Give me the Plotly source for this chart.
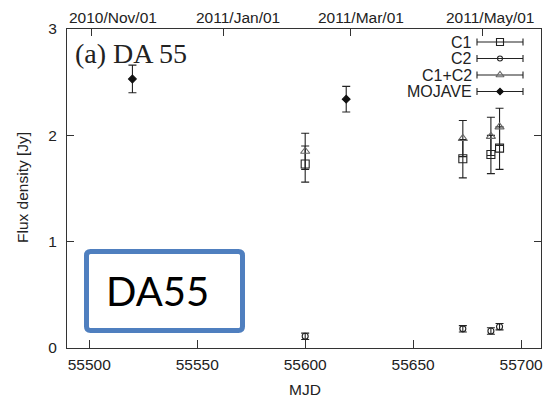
import plotly.graph_objects as go

# ---------------- data ----------------
MJD_C = [55600, 55673, 55686, 55690]
C1_FLUX = [1.73, 1.78, 1.82, 1.88]
C1_ERR = [0.17, 0.18, 0.18, 0.20]
C2_FLUX = [0.11, 0.18, 0.16, 0.20]
C2_ERR = [0.03, 0.03, 0.03, 0.03]
C12_FLUX = [1.85, 1.97, 1.99, 2.08]
C12_ERR = [0.17, 0.17, 0.18, 0.175]
MOJAVE_MJD = [55520, 55619]
MOJAVE_FLUX = [2.53, 2.34]
MOJAVE_ERR = [0.13, 0.12]

X_TICKS = [55500, 55550, 55600, 55650, 55700]
Y_TICKS = [0, 1, 2, 3]
DATE_MJD = [55501, 55562, 55621, 55682]
DATE_LABELS = ["2010/Nov/01", "2011/Jan/01", "2011/Mar/01", "2011/May/01"]
DATE_LABEL_POS = [55511, 55568.8, 55626, 55685.5]
LEGEND_NAMES = ["C1", "C2", "C1+C2", "MOJAVE"]

# ---------------- layout helpers ----------------
W, H = 547, 398
L, R, T, B = 67, 541, 29, 348


def px(x):
    return (x - L) / (R - L)


def py(y):
    return (B - y) / (B - T)


INK = "#222222"
AX = "#333333"
TICKFONT = dict(family="Liberation Sans, Arial, sans-serif", size=15.5, color=INK)

styles = [
    dict(symbol="square-open", size=8, color=INK),
    dict(symbol="circle-open", size=6, color=INK),
    dict(symbol="triangle-up-open", size=8, color="#666666"),
    dict(symbol="diamond", size=6, color="#111111"),
]


def err(arr):
    return dict(type="data", array=arr, visible=True, color=INK, thickness=1.1, width=4)


fig = go.Figure()
series = [
    (MJD_C, C1_FLUX, C1_ERR),
    (MJD_C, C2_FLUX, C2_ERR),
    (MJD_C, C12_FLUX, C12_ERR),
    (MOJAVE_MJD, MOJAVE_FLUX, MOJAVE_ERR),
]
for (xs, ys, es), st, name in zip(series, styles, LEGEND_NAMES):
    fig.add_trace(go.Scatter(
        x=xs, y=ys, mode="markers", name=name, showlegend=False,
        marker=dict(symbol=st["symbol"], size=st["size"], color=st["color"],
                    line=dict(width=1.1, color=st["color"])),
        error_y=err(es), cliponaxis=False,
    ))

# dummy trace so the top (date) axis is drawn
fig.add_trace(go.Scatter(x=[DATE_MJD[0]], y=[None], xaxis="x2", yaxis="y",
                         mode="markers", showlegend=False, hoverinfo="skip"))

# custom key: text + horizontal error-bar sample
LEG_ROW0, LEG_STEP = 42, 16.5
LEG_CX, LEG_HALF = 500, 23
for i, (name, st) in enumerate(zip(LEGEND_NAMES, styles)):
    yy = py(LEG_ROW0 + i * LEG_STEP)
    fig.add_trace(go.Scatter(
        x=[px(LEG_CX)], y=[yy], xaxis="x3", yaxis="y3", mode="markers",
        showlegend=False, hoverinfo="skip",
        marker=dict(symbol=st["symbol"], size=st["size"] - 1, color=st["color"],
                    line=dict(width=1.1, color=st["color"])),
        error_x=dict(type="constant", value=LEG_HALF / (R - L), color=INK,
                     thickness=1.1, width=3.5),
        cliponaxis=False,
    ))

annotations = []
for i, name in enumerate(LEGEND_NAMES):
    annotations.append(dict(
        text=name, xref="paper", yref="paper", x=px(474), y=py(LEG_ROW0 + i * LEG_STEP),
        xanchor="right", yanchor="middle", showarrow=False,
        font=dict(family="Liberation Sans, Arial, sans-serif", size=16, color=INK)))

for lab, pos in zip(DATE_LABELS, DATE_LABEL_POS):
    annotations.append(dict(
        text=lab, xref="x", yref="paper", x=pos, y=py(17),
        xanchor="center", yanchor="middle", showarrow=False, font=TICKFONT))

# axis titles
annotations.append(dict(
    text="MJD", xref="paper", yref="paper", x=px(305), y=py(389),
    xanchor="center", yanchor="middle", showarrow=False, font=TICKFONT))
annotations.append(dict(
    text="Flux density [Jy]", xref="paper", yref="paper", x=px(22), y=py(188),
    xanchor="center", yanchor="middle", showarrow=False, textangle=-90, font=TICKFONT))

annotations.append(dict(
    text="(a) DA 55", xref="paper", yref="paper", x=px(73), y=py(54),
    xanchor="left", yanchor="middle", showarrow=False,
    font=dict(family="Liberation Serif, Times New Roman, serif", size=28, color=INK)))

annotations.append(dict(
    text="DA55", xref="paper", yref="paper", x=px(157), y=py(291),
    xanchor="center", yanchor="middle", showarrow=False,
    font=dict(family="Lato, sans-serif", size=40, color="#000000")))

# rounded rectangle box
x0, x1, y0, y1 = px(86.5), px(242.5), py(330.5), py(251.5)
rx, ry = 4 / (R - L), 4 / (B - T)
path = (f"M {x0+rx},{y0} L {x1-rx},{y0} Q {x1},{y0} {x1},{y0+ry} "
        f"L {x1},{y1-ry} Q {x1},{y1} {x1-rx},{y1} "
        f"L {x0+rx},{y1} Q {x0},{y1} {x0},{y1-ry} "
        f"L {x0},{y0+ry} Q {x0},{y0} {x0+rx},{y0} Z")
shapes = [dict(type="path", path=path, xref="paper", yref="paper",
               line=dict(color="#4F7FBF", width=5), fillcolor="white", layer="above")]

x_range = [55489.7, 55709.2]

fig.update_layout(
    width=W, height=H,
    margin=dict(l=L, r=W - R, t=T, b=H - B, pad=0, autoexpand=False),
    paper_bgcolor="white", plot_bgcolor="white",
    showlegend=False,
    xaxis=dict(range=x_range, tickvals=X_TICKS, tickformat="d", ticks="inside", ticklen=8,
               tickcolor=AX, tickwidth=1, showline=True, linecolor=AX, linewidth=1,
               mirror=True, showgrid=False, zeroline=False, tickfont=TICKFONT,
               ticklabelstandoff=2, automargin=False),
    xaxis2=dict(range=x_range, overlaying="x", side="top", anchor="y",
                tickvals=DATE_MJD, ticks="inside", ticklen=7, tickcolor=AX,
                showticklabels=False, showline=False, showgrid=False, zeroline=False,
                automargin=False),
    xaxis3=dict(domain=[0, 1], range=[0, 1], anchor="y3", overlaying="x", visible=False,
                automargin=False),
    yaxis=dict(range=[0, 3], tickvals=Y_TICKS, ticks="inside", ticklen=7,
               tickcolor=AX, tickwidth=1, showline=True, linecolor=AX, linewidth=1,
               mirror="ticks", showgrid=False, zeroline=False, tickfont=TICKFONT,
               ticklabelstandoff=6, automargin=False),
    yaxis3=dict(domain=[0, 1], range=[0, 1], anchor="x3", overlaying="y", visible=False,
                automargin=False),
    annotations=annotations,
    shapes=shapes,
)

fig.write_html("out.html", config={"displayModeBar": False},
               post_script="document.body.style.margin='0px';")
